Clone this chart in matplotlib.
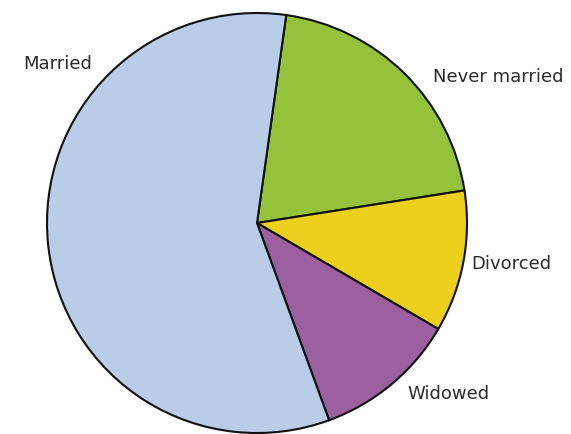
import matplotlib
matplotlib.use("Agg")
import matplotlib.pyplot as plt

# clockwise from the top edge of "Never married"
categories = ["Never married", "Divorced", "Widowed", "Married"]
shares = [20.3, 10.9, 11.0, 57.8]
colors = ["#94c23a", "#ecd01c", "#9c5fa0", "#b9cde9"]

# label anchor positions (in units of pie radius)
label_pos = [(1.15, 0.70), (1.21, -0.19), (0.91, -0.81), (-0.95, 0.76)]

fig = plt.figure(figsize=(5.71, 4.35), dpi=100)
ax = fig.add_axes([0, 0, 1, 1])
ax.pie(shares, colors=colors, startangle=82, counterclock=False,
       radius=1.0, center=(0, 0),
       wedgeprops=dict(edgecolor="#111111", linewidth=1.5))

for name, (x, y) in zip(categories, label_pos):
    ax.text(x, y, name, ha="center", va="center", fontsize=13,
            color="#2b2b2b", family="DejaVu Sans")

# keep 1 unit = 210 px, pie centre at (257, 224) px from top-left
ax.set_xlim(-257 / 210, (571 - 257) / 210)
ax.set_ylim(-(435 - 224) / 210, 224 / 210)
ax.set_aspect("auto")
ax.axis("off")

fig.savefig("out.png", dpi=100)
